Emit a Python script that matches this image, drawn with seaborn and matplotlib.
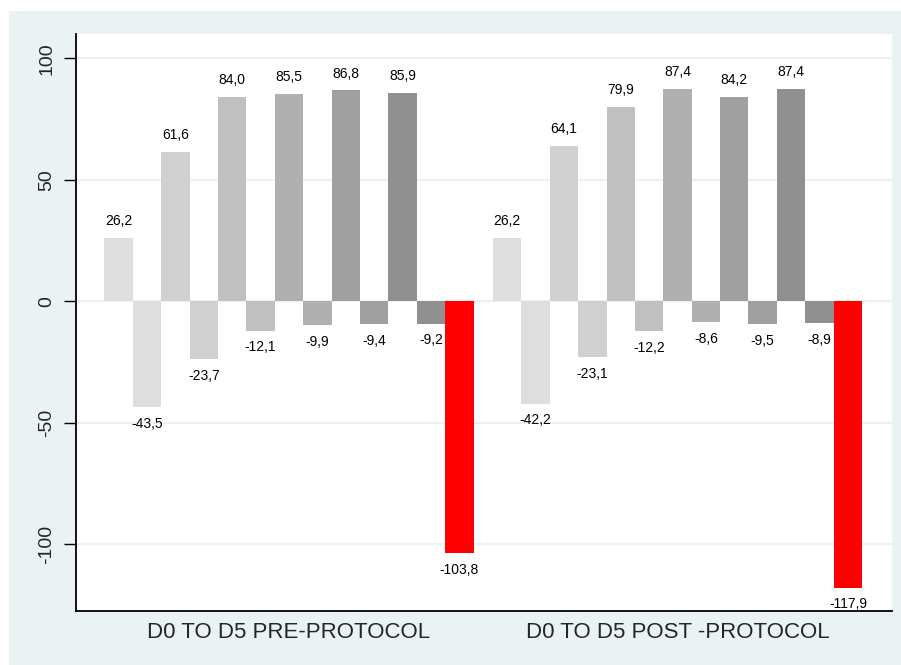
import pandas as pd
import seaborn as sns
import matplotlib.pyplot as plt
from matplotlib.patches import Rectangle

# Data
periods = ['D0 TO D5 PRE-PROTOCOL', 'D0 TO D5 POST -PROTOCOL']
steps = ['D1 +', 'D1 -', 'D2 +', 'D2 -', 'D3 +', 'D3 -',
         'D4 +', 'D4 -', 'D5 +', 'D5 -', 'D6 +', 'D6 -', 'Total']
pre_values = [26.2, -43.5, 61.6, -23.7, 84.0, -12.1, 85.5, -9.9, 86.8, -9.4, 85.9, -9.2, -103.8]
post_values = [26.2, -42.2, 64.1, -23.1, 79.9, -12.2, 87.4, -8.6, 84.2, -9.5, 87.4, -8.9, -117.9]
bar_colors = ['#dedede', '#dedede', '#d0d0d0', '#d0d0d0', '#c0c0c0', '#c0c0c0',
              '#b0b0b0', '#b0b0b0', '#a0a0a0', '#a0a0a0', '#909090', '#909090', '#ff0000']

df = pd.DataFrame({
    'period': [periods[0]] * len(steps) + [periods[1]] * len(steps),
    'step': steps + steps,
    'value': pre_values + post_values,
})

bg = '#eaf2f3'
sns.set_style('white')
plt.rcParams['font.family'] = ['Liberation Sans', 'DejaVu Sans']

fig = plt.figure(figsize=(9.01, 6.65), dpi=100, facecolor='white')
# light panel behind the chart (white strip left and top)
fig.patches.append(Rectangle((9 / 901, 0), 1, 1 - 11 / 665, transform=fig.transFigure,
                             facecolor=bg, edgecolor='none', zorder=-10))
ax = fig.add_axes([76 / 901, 1 - 611 / 665, (892 - 76) / 901, (611 - 34) / 665])

sns.barplot(data=df, x='period', y='value', hue='step', order=periods, hue_order=steps,
            palette=bar_colors, saturation=1, width=0.95, legend=False,
            edgecolor='none', linewidth=0, ax=ax, zorder=3)

# value labels with comma decimal
for cont, vals in zip(ax.containers, zip(pre_values, post_values)):
    labels = [f'{v:.1f}'.replace('.', ',') for v in vals]
    ax.bar_label(cont, labels=labels, padding=7, fontsize=10, color='black')

ax.set_xlim(-0.548, 1.552)
ax.set_ylim(-127.5, 110)
ax.set_yticks([-100, -50, 0, 50, 100])
ax.set_yticklabels(['-100', '-50', '0', '50', '100'], rotation=90, va='center', fontsize=14)
ax.set_xlabel('')
ax.set_ylabel('')
ax.tick_params(axis='x', length=0, labelsize=16, pad=8)
ax.tick_params(axis='y', length=9, width=1, color='black', left=True, pad=6)
ax.yaxis.grid(True, color=bg, linewidth=1.5, zorder=0)
ax.xaxis.grid(False)
ax.set_axisbelow(True)

for side in ['top', 'right']:
    ax.spines[side].set_visible(False)
for side in ['left', 'bottom']:
    ax.spines[side].set_color('black')
    ax.spines[side].set_linewidth(1.3)

fig.savefig('out.png', dpi=100, facecolor=fig.get_facecolor())
